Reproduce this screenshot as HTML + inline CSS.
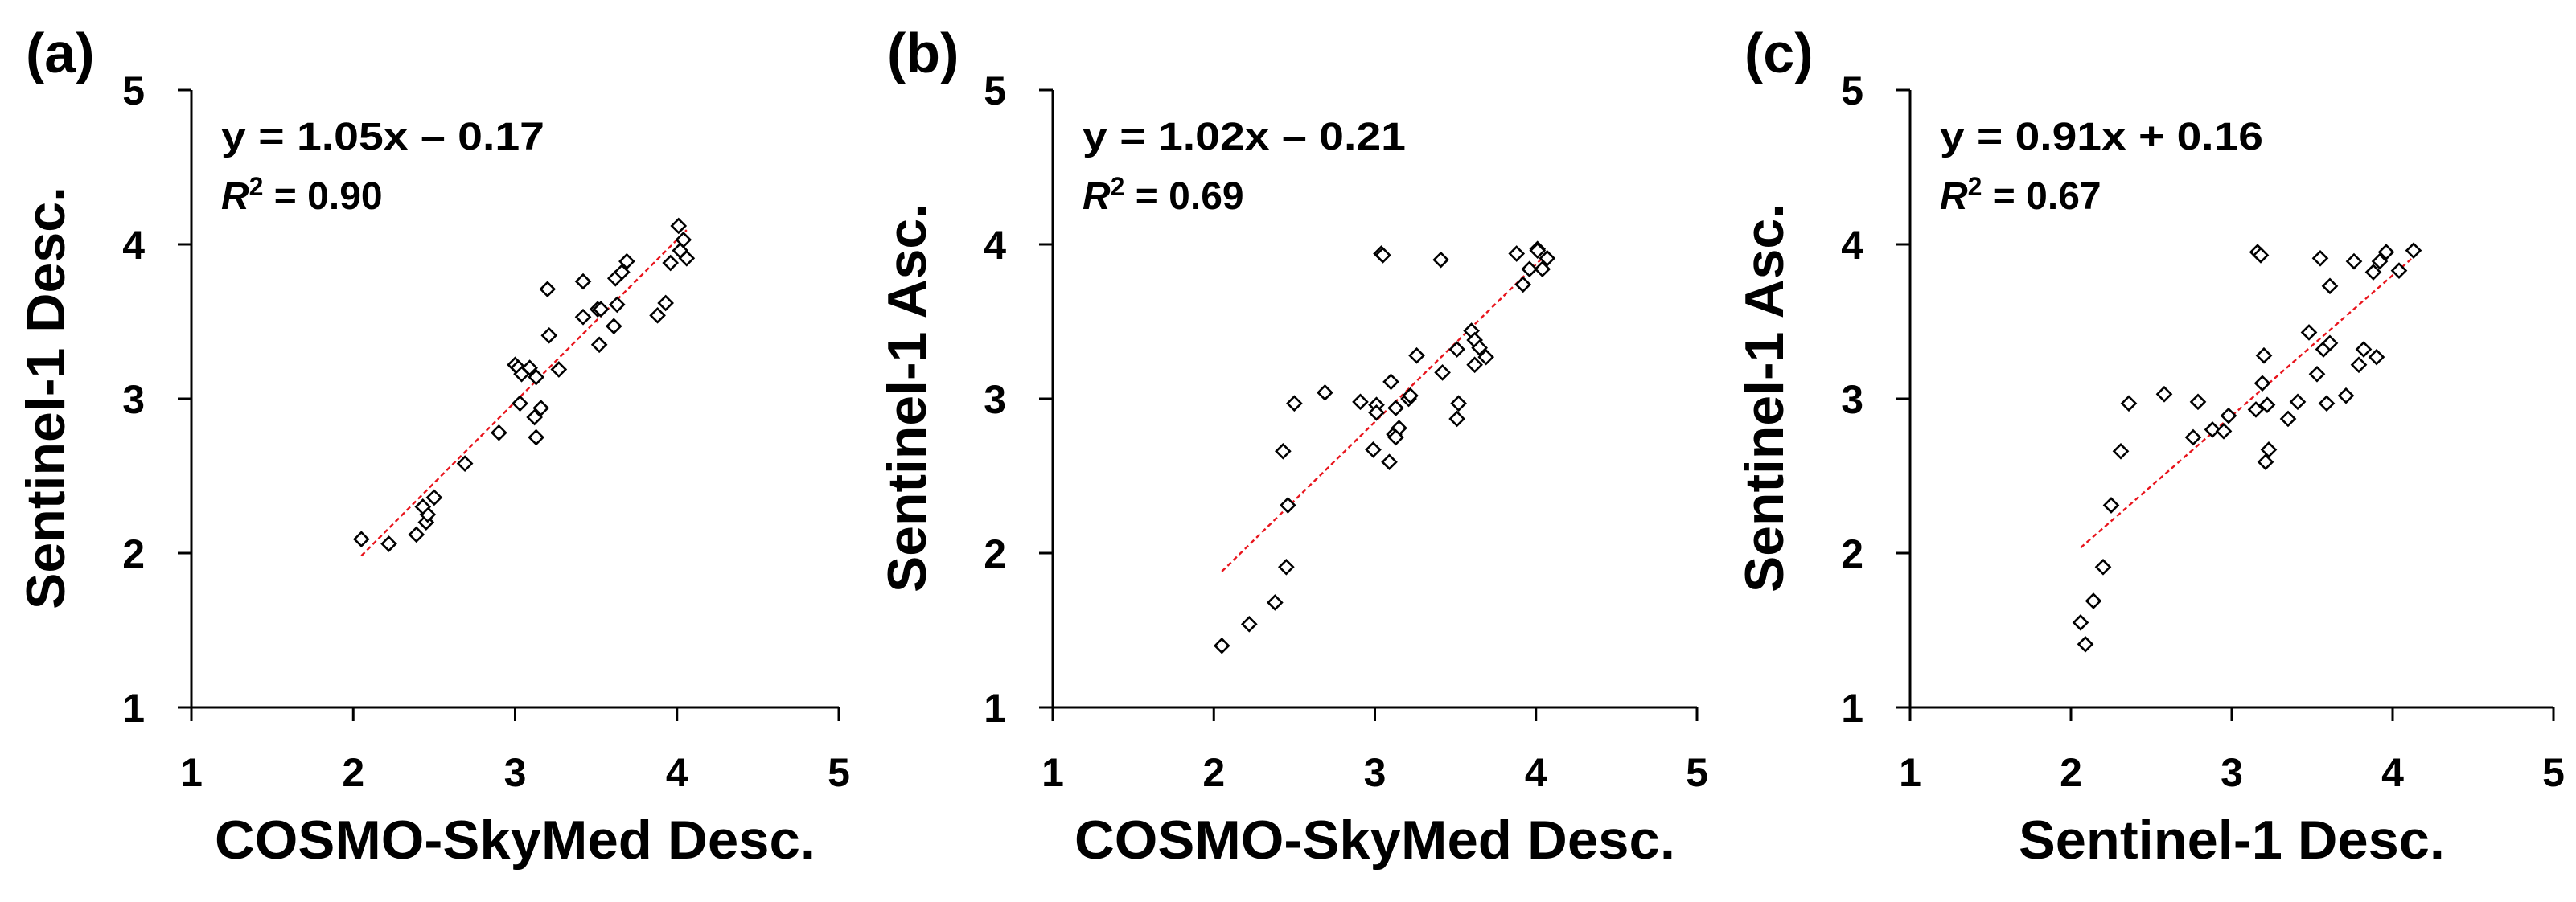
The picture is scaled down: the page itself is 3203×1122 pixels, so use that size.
<!DOCTYPE html>
<html><head><meta charset="utf-8"><style>
html,body{margin:0;padding:0;background:#fff;}
svg{display:block;font-family:"Liberation Sans",Arial,sans-serif;font-weight:bold;}
</style></head><body>
<svg id="fig" width="3203" height="1122" viewBox="0 0 3203 1122" xmlns="http://www.w3.org/2000/svg"></svg>
<script>
const ticks = [1, 2, 3, 4, 5];
const tickLabels = ["1", "2", "3", "4", "5"];
const panelLabels = ["(a)", "(b)", "(c)"];
const xTitles = ["COSMO-SkyMed Desc.", "COSMO-SkyMed Desc.", "Sentinel-1 Desc."];
const yTitles = ["Sentinel-1 Desc.", "Sentinel-1 Asc.", "Sentinel-1 Asc."];
const slopes = [1.05, 1.02, 0.91];
const intercepts = [-0.17, -0.21, 0.16];
const eqTexts = ["y = 1.05x \u2013 0.17", "y = 1.02x \u2013 0.21", "y = 0.91x + 0.16"];
const r2Texts = ["0.90", "0.69", "0.67"];
const aX = [2.05,2.22,2.39,2.45,2.46,2.43,2.50,2.69,2.90,3.00,3.02,3.04,3.09,3.13,3.27,3.03,3.16,3.12,3.13,3.21,3.20,3.42,3.42,3.51,3.53,3.52,3.63,3.61,3.62,3.66,3.69,3.88,3.93,3.96,4.01,4.04,4.02,4.06];
const aY = [2.09,2.06,2.12,2.20,2.25,2.30,2.36,2.58,2.78,3.22,3.20,3.16,3.20,3.14,3.19,2.97,2.94,2.88,2.75,3.41,3.71,3.76,3.53,3.58,3.58,3.35,3.61,3.47,3.78,3.82,3.89,3.54,3.62,3.88,4.12,4.03,3.96,3.91];
const bX = [2.05,2.22,2.38,2.45,2.46,2.43,2.50,2.69,2.91,3.01,3.01,2.99,3.09,3.10,3.13,3.12,3.15,3.13,3.21,3.22,3.26,3.04,3.05,3.41,3.42,3.51,3.52,3.51,3.60,3.62,3.65,3.69,3.62,3.88,3.92,3.96,4.01,4.01,4.04,4.07];
const bY = [1.40,1.54,1.68,1.91,2.31,2.66,2.97,3.04,2.98,2.96,2.91,2.67,2.59,3.11,2.94,2.77,2.81,2.75,3.00,3.02,3.28,3.94,3.93,3.90,3.17,3.32,2.97,2.87,3.44,3.38,3.33,3.27,3.22,3.94,3.74,3.84,3.97,3.96,3.84,3.91];
const cX = [2.06,2.09,2.14,2.20,2.25,2.31,2.36,2.58,2.79,2.76,2.88,2.95,2.98,3.15,3.16,3.18,3.20,3.19,3.22,3.23,3.21,3.35,3.41,3.48,3.53,3.57,3.59,3.61,3.61,3.55,3.71,3.76,3.79,3.82,3.90,3.88,3.92,3.96,4.04,4.13];
const cY = [1.55,1.41,1.69,1.91,2.31,2.66,2.97,3.03,2.98,2.75,2.80,2.79,2.89,2.93,3.95,3.93,3.28,3.10,2.96,2.67,2.59,2.87,2.98,3.43,3.16,3.32,2.97,3.36,3.73,3.91,3.02,3.89,3.22,3.32,3.27,3.82,3.89,3.95,3.83,3.96];
const lineRangeX = [[2.05, 4.06], [2.05, 4.07], [2.06, 4.13]];

const NS = "http://www.w3.org/2000/svg";
const svg = document.getElementById("fig");
function mk(tag, attrs, parent) {
  const e = document.createElementNS(NS, tag);
  for (const k in attrs) e.setAttribute(k, attrs[k]);
  (parent || svg).appendChild(e);
  return e;
}
const axisLeft = [238, 1309, 2375];
const axisRight = [1043, 2110, 3175];
const yTop = 112, yBot = 880;
const allX = [aX, bX, cX], allY = [aY, bY, cY];

for (let p = 0; p < 3; p++) {
  const L = axisLeft[p], R = axisRight[p];
  const sx = v => L + (v - 1) / 4 * (R - L);
  const sy = v => yBot - (v - 1) / 4 * (yBot - yTop);
  const g = mk("g", {});
  
  

  const pl = mk("text", {x: L - 206, y: 90, "font-size": 70}, g);
  pl.textContent = panelLabels[p];
  
  

  const ax = mk("path", {d: `M${L},${yTop} L${L},${yBot} L${R},${yBot}`, fill: "none", stroke: "#000", "stroke-width": 3}, g);
  
  

  for (let i = 0; i < ticks.length; i++) {
    const t = ticks[i];
    const yt = mk("line", {x1: L - 17, x2: L, y1: sy(t), y2: sy(t), stroke: "#000", "stroke-width": 3}, g);
    
    
    const xt = mk("line", {x1: sx(t), x2: sx(t), y1: yBot, y2: yBot + 17, stroke: "#000", "stroke-width": 3}, g);
    
    
    const yl = mk("text", {x: L - 58, y: sy(t) + 18, "font-size": 50, "text-anchor": "end"}, g);
    yl.textContent = tickLabels[i];
    
    
    const xl = mk("text", {x: sx(t), y: 978, "font-size": 50, "text-anchor": "middle"}, g);
    xl.textContent = tickLabels[i];
    
    
  }

  const xtw = p === 2 ? 530 : 747;
  const xtt = mk("text", {x: (L + R) / 2, y: 1068, "font-size": 68, "text-anchor": "middle", textLength: xtw, lengthAdjust: "spacingAndGlyphs"}, g);
  xtt.textContent = xTitles[p];
  
  

  const ytw = p === 0 ? 526 : 484;
  const ycx = L - 158;
  const ytt = mk("text", {x: ycx, y: 495, "font-size": 68, "text-anchor": "middle", textLength: ytw, lengthAdjust: "spacingAndGlyphs", transform: `rotate(-90 ${ycx} 495)`}, g);
  ytt.textContent = yTitles[p];
  
  

  const eq = mk("text", {x: L + 37, y: 186, "font-size": 48, textLength: 402, lengthAdjust: "spacingAndGlyphs"}, g);
  eq.textContent = eqTexts[p];
  
  
  const r2 = mk("text", {x: L + 37, y: 260, "font-size": 48}, g);
  const ri = mk("tspan", {"font-style": "italic", "font-size": 48}, r2); ri.textContent = "R";
  const rs = mk("tspan", {"font-size": 32, dy: -17}, r2); rs.textContent = "2";
  const rv = mk("tspan", {"font-size": 48, dy: 17}, r2); rv.textContent = " = " + r2Texts[p];
  
  

  const x0 = lineRangeX[p][0], x1 = lineRangeX[p][1];
  const tl = mk("line", {x1: sx(x0), y1: sy(slopes[p] * x0 + intercepts[p]), x2: sx(x1), y2: sy(slopes[p] * x1 + intercepts[p]), stroke: "#e8141c", "stroke-width": 2.4, "stroke-dasharray": "6,4"}, g);
  
  

  const xs = allX[p], ys = allY[p];
  for (let i = 0; i < xs.length; i++) {
    const cx = sx(xs[i]), cy = sy(ys[i]), r = 8.5;
    const d = mk("path", {d: `M${cx},${cy - r} L${cx + r},${cy} L${cx},${cy + r} L${cx - r},${cy} Z`, fill: "#fff", stroke: "#000", "stroke-width": 2.6}, g);
    
    
  }
}
</script>
</body></html>
